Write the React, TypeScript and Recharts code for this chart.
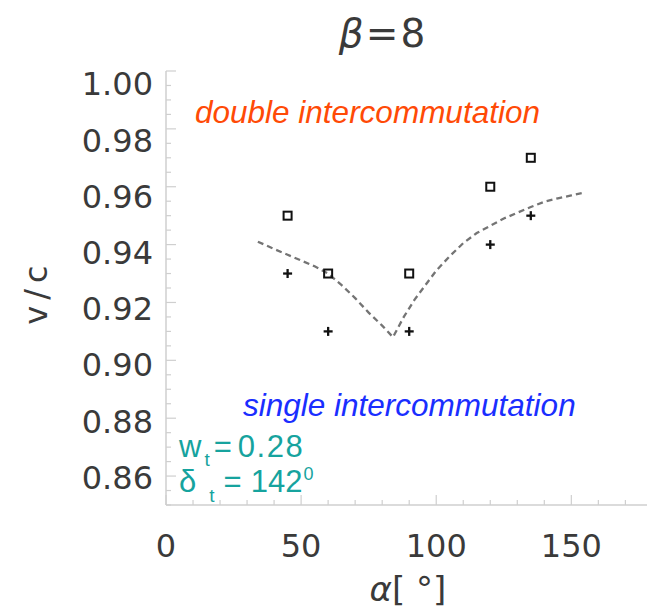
import React from "react";
import {
  ComposedChart,
  Line,
  Scatter,
  XAxis,
  YAxis,
  Customized,
} from "recharts";

// alpha [deg] of the simulated runs
const alphaRuns = [45, 60, 90, 120, 135];
// double intercommutation (squares)
const doubleV = [0.95, 0.93, 0.93, 0.96, 0.97];
// single intercommutation (crosses)
const singleV = [0.93, 0.91, 0.91, 0.94, 0.95];

// dashed analytic curve
const curveAlpha = [34, 40, 45, 50, 55, 60, 65, 70, 75, 80, 84, 88, 92, 96, 100, 105, 110, 115, 120, 125, 130, 135, 140, 145, 150, 155];
const curveV = [0.941, 0.9385, 0.9365, 0.9345, 0.9325, 0.93, 0.926, 0.9215, 0.9165, 0.912, 0.908, 0.915, 0.921, 0.926, 0.931, 0.936, 0.9405, 0.944, 0.9465, 0.949, 0.951, 0.953, 0.9548, 0.956, 0.957, 0.958];

const xTicks = [0, 10, 20, 30, 40, 50, 60, 70, 80, 90, 100, 110, 120, 130, 140, 150, 160, 170];
const xLabels = [0, 50, 100, 150];
const yTicks = [
  0.85, 0.855, 0.86, 0.865, 0.87, 0.875, 0.88, 0.885, 0.89, 0.895, 0.9, 0.905,
  0.91, 0.915, 0.92, 0.925, 0.93, 0.935, 0.94, 0.945, 0.95, 0.955, 0.96, 0.965,
  0.97, 0.975, 0.98, 0.985, 0.99, 0.995, 1.0,
];
const yLabels = ["0.86", "0.88", "0.90", "0.92", "0.94", "0.96", "0.98", "1.00"];

const doubleData = alphaRuns.map((a, i) => ({ a, v: doubleV[i] }));
const singleData = alphaRuns.map((a, i) => ({ a, v: singleV[i] }));
const curveData = curveAlpha.map((a, i) => ({ a, v: curveV[i] }));

const FRAME = "#cfcfcf";
const INK = "#3a3a3a";
const axisFont = "'DejaVu Sans', sans-serif";
const textFont = "'Liberation Sans', Arial, sans-serif";

const isXMajor = (v: number) => xLabels.includes(v);
const yLabelOf = (v: number) => yLabels.find((l) => Math.abs(parseFloat(l) - v) < 1e-6);

function BottomTick({ x, y, payload }: any) {
  const v = payload.value;
  const big = isXMajor(v);
  return (
    <g>
      <line x1={x} y1={y} x2={x} y2={y - (big ? 10 : 5)} stroke={FRAME} strokeWidth={1.2} />
      {big && (
        <text x={x} y={y + 52} textAnchor="middle" fontSize={32} fontFamily={axisFont} fill={INK}>
          {v}
        </text>
      )}
    </g>
  );
}

function TopTick({ x, y, payload }: any) {
  const big = isXMajor(payload.value);
  return <line x1={x} y1={y} x2={x} y2={y + (big ? 10 : 5)} stroke={FRAME} strokeWidth={1.2} />;
}

function LeftTick({ x, y, payload }: any) {
  const v = payload.value;
  const label = yLabelOf(v);
  // labels in the original sit a little below their ticks, more so near the top
  const shift = 1 + ((v - 0.86) / 0.14) * 11.7;
  return (
    <g>
      <line x1={x} y1={y} x2={x + (label ? 10 : 5)} y2={y} stroke={FRAME} strokeWidth={1.2} />
      {label && (
        <text x={x - 13} y={y + shift + 11.7} textAnchor="end" fontSize={32} fontFamily={axisFont} fill={INK}>
          {label}
        </text>
      )}
    </g>
  );
}

function RightTick({ x, y, payload }: any) {
  const big = !!yLabelOf(payload.value);
  return <line x1={x} y1={y} x2={x - (big ? 10 : 5)} y2={y} stroke={FRAME} strokeWidth={1.2} />;
}

function SquareMark({ cx, cy }: any) {
  return <rect x={cx - 4} y={cy - 4} width={8} height={8} fill="none" stroke="#111" strokeWidth={2} />;
}

function CrossMark({ cx, cy }: any) {
  return (
    <g stroke="#111" strokeWidth={2.3}>
      <line x1={cx - 4.5} y1={cy} x2={cx + 4.5} y2={cy} />
      <line x1={cx} y1={cy - 4.5} x2={cx} y2={cy + 4.5} />
    </g>
  );
}

function Annotations() {
  return (
    <g>
      {/* title */}
      <text x={382} y={47} textAnchor="middle" fontSize={39} fontFamily={axisFont} fill={INK}>
        <tspan fontStyle="italic">β</tspan>
        <tspan dx={2}>=</tspan>
        <tspan dx={2}>8</tspan>
      </text>
      {/* axis titles */}
      <text
        x={47}
        y={292}
        transform="rotate(-90 47 292)"
        textAnchor="middle"
        fontSize={32}
        fontFamily={axisFont}
        fill={INK}
        letterSpacing={6}
      >
        v/c
      </text>
      <text x={408} y={601} textAnchor="middle" fontSize={34} fontFamily={axisFont} fill={INK}>
        <tspan fontStyle="italic">α</tspan>[ °]
      </text>
      {/* regime labels */}
      <text x={195} y={123} fontSize={31.5} fontStyle="italic" fontFamily={textFont} fill="#ff4a06">
        double intercommutation
      </text>
      <text x={243} y={416} fontSize={31.5} fontStyle="italic" fontFamily={textFont} fill="#1a2eff">
        single intercommutation
      </text>
      {/* parameters */}
      <g fontFamily={textFont} fill="#16a39e">
        <text x={179} y={457} fontSize={31}>
          <tspan>w</tspan>
          <tspan dx={3} dy={9} fontSize={19}>t</tspan>
          <tspan dx={4} dy={-9}>=</tspan>
          <tspan dx={6} letterSpacing={1.5}>0.28</tspan>
        </text>
        <text x={179} y={492} fontSize={31}>
          <tspan>δ</tspan>
          <tspan dx={13} dy={10} fontSize={19}>t</tspan>
          <tspan dx={9} dy={-10}>=</tspan>
          <tspan dx={9}>142</tspan>
          <tspan dx={1} dy={-12} fontSize={18}>0</tspan>
        </text>
      </g>
    </g>
  );
}

export default function App() {
  return (
    <div style={{ position: "absolute", left: 0, top: 0, width: 652, height: 613, background: "#fff" }}>
      <ComposedChart width={652} height={613} margin={{ top: 71, right: 5, bottom: 0, left: 0 }}>
        <XAxis
          dataKey="a"
          type="number"
          domain={[0, 178]}
          ticks={xTicks}
          interval={0}
          allowDataOverflow
          height={108}
          tickSize={0}
          tickMargin={0}
          tickLine={false}
          axisLine={{ stroke: FRAME, strokeWidth: 1.5 }}
          tick={<BottomTick />}
        />
        <XAxis
          xAxisId="top"
          orientation="top"
          dataKey="a"
          type="number"
          domain={[0, 178]}
          ticks={xTicks}
          interval={0}
          allowDataOverflow
          height={0}
          tickSize={0}
          tickMargin={0}
          tickLine={false}
          axisLine={{ stroke: FRAME, strokeWidth: 1.5 }}
          tick={<TopTick />}
        />
        <YAxis
          type="number"
          domain={[0.85, 1.0]}
          ticks={yTicks}
          interval={0}
          allowDataOverflow
          width={166}
          tickSize={0}
          tickMargin={0}
          tickLine={false}
          axisLine={{ stroke: FRAME, strokeWidth: 1.5 }}
          tick={<LeftTick />}
        />
        <YAxis
          yAxisId="right"
          orientation="right"
          type="number"
          domain={[0.85, 1.0]}
          ticks={yTicks}
          interval={0}
          allowDataOverflow
          width={0}
          tickSize={0}
          tickMargin={0}
          tickLine={false}
          axisLine={{ stroke: FRAME, strokeWidth: 1.5 }}
          tick={<RightTick />}
        />
        <Line
          data={curveData}
          dataKey="v"
          type="linear"
          stroke="#747474"
          strokeWidth={2.3}
          strokeDasharray="6 4"
          dot={false}
          activeDot={false}
          isAnimationActive={false}
        />
        <Scatter data={doubleData} dataKey="v" shape={<SquareMark />} isAnimationActive={false} />
        <Scatter data={singleData} dataKey="v" shape={<CrossMark />} isAnimationActive={false} />
        <Customized component={<Annotations />} />
      </ComposedChart>
    </div>
  );
}
